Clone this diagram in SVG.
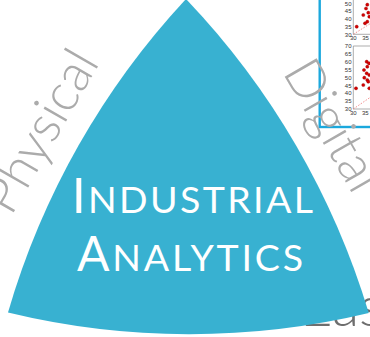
<svg xmlns="http://www.w3.org/2000/svg" width="370" height="337" viewBox="0 0 370 337">
<style>
.lbl{font-family:Lato,"Open Sans","DejaVu Sans",sans-serif;font-weight:300;fill:#ababab}
.title{font-family:Lato,"Open Sans","DejaVu Sans",sans-serif;font-weight:400;fill:#ffffff}
.ax{stroke:#8a8a8a;stroke-width:0.7;fill:none}
.tk{font-family:"Liberation Sans",Arial,sans-serif;font-size:6px;fill:#333}
.dot{fill:#d40000;stroke:#900;stroke-width:0.4}
.diag{stroke:#f07070;stroke-width:0.8;stroke-dasharray:1.5 1.5;fill:none}
</style>
<rect width="370" height="337" fill="#ffffff"/>
<g id="inset">
  <rect x="319.7" y="-5" width="60" height="132" fill="#ffffff" stroke="#1ba8dd" stroke-width="2.4"/>
  <g id="plot1">
    <path class="ax" d="M353.3 -2 V34.3 H372"/>
    <path class="diag" d="M353.3 34.3 L370 23.8"/>
    <g class="tk" text-anchor="end">
      <text x="351.5" y="5.5">50</text>
      <text x="351.5" y="13.2">45</text>
      <text x="351.5" y="21">40</text>
      <text x="351.5" y="28.8">35</text>
      <text x="351.5" y="36.6">30</text>
    </g>
    <g class="tk" text-anchor="middle">
      <text x="353.3" y="40.3">30</text>
      <text x="365.6" y="40.3">35</text>
    </g>
    <circle class="dot" cx="356.7" cy="26.7" r="1.6"/>
    <circle class="dot" cx="367.3" cy="4.7" r="1.6"/>
    <circle class="dot" cx="363.3" cy="15" r="1.6"/>
    <circle class="dot" cx="368.3" cy="12.7" r="1.6"/>
    <circle class="dot" cx="369.3" cy="16.7" r="1.6"/>
    <circle class="dot" cx="367.3" cy="21.7" r="1.6"/>
    <circle class="dot" cx="365" cy="23.3" r="1.6"/>
    <circle class="dot" cx="366" cy="8.5" r="1.6"/>
  </g>
  <g id="plot2">
    <path class="ax" d="M372 46 H353.3 V109 H372"/>
    <path class="diag" d="M353.3 109 L370 97.5"/>
    <g class="tk" text-anchor="end">
      <text x="351.5" y="48.2">70</text>
      <text x="351.5" y="56.1">65</text>
      <text x="351.5" y="63.9">60</text>
      <text x="351.5" y="71.8">55</text>
      <text x="351.5" y="79.7">50</text>
      <text x="351.5" y="87.6">45</text>
      <text x="351.5" y="95.4">40</text>
      <text x="351.5" y="103.2">35</text>
      <text x="351.5" y="111.2">30</text>
    </g>
    <g class="tk" text-anchor="middle">
      <text x="353.3" y="115.3">30</text>
      <text x="365.3" y="115.3">35</text>
    </g>
    <circle class="dot" cx="356" cy="88.3" r="1.6"/>
    <circle class="dot" cx="366.7" cy="61.7" r="1.6"/>
    <circle class="dot" cx="369" cy="63.3" r="1.6"/>
    <circle class="dot" cx="367.3" cy="66.7" r="1.6"/>
    <circle class="dot" cx="364" cy="70" r="1.6"/>
    <circle class="dot" cx="366.7" cy="73.3" r="1.6"/>
    <circle class="dot" cx="364.3" cy="77.7" r="1.6"/>
    <circle class="dot" cx="367.3" cy="80" r="1.6"/>
    <circle class="dot" cx="369.3" cy="75" r="1.6"/>
    <circle class="dot" cx="363.3" cy="85" r="1.6"/>
    <circle class="dot" cx="368.3" cy="81.7" r="1.6"/>
    <circle class="dot" cx="369.3" cy="88.3" r="1.6"/>
  </g>
</g>
<g id="east-label">
  <text x="300" y="326" font-family="Lato,'Open Sans',sans-serif" font-weight="300" font-size="56" fill="#6e6e6e">Eas</text>
</g>
<g id="triangle">
  <path d="M186 -1 A780 780 0 0 0 8 312.5 A770 770 0 0 0 368.8 313 A780 780 0 0 0 186 -1 Z" fill="#38b1d1"/>
</g>
<g id="physical-label">
  <text class="lbl" x="11" y="217" font-size="52" transform="rotate(-60 11 217)">Physical</text>
</g>
<g id="digital-label">
  <text class="lbl" x="282" y="72" font-size="52" transform="rotate(60 282 72)">Digital</text>
</g>
<g id="title">
  <text class="title" x="72" y="213" textLength="241" lengthAdjust="spacing"><tspan font-size="49">I</tspan><tspan font-size="37.5">NDUSTRIAL</tspan></text>
  <text class="title" x="77" y="271" textLength="226" lengthAdjust="spacing"><tspan font-size="48">A</tspan><tspan font-size="37.5">NALYTICS</tspan></text>
</g>
</svg>
